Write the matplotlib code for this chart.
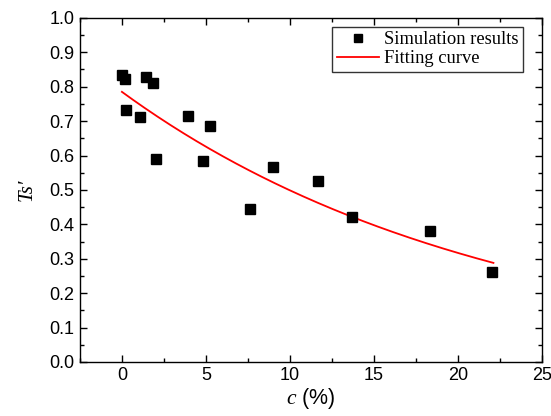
import numpy as np
import matplotlib
matplotlib.use('Agg')
import matplotlib.pyplot as plt

# simulation results
c_sim = [0.0, 0.16, 0.24, 1.09, 1.43, 1.85, 2.0, 3.93, 4.84, 5.26, 7.63, 8.97, 11.67, 13.71, 18.35, 22.04]
ts_sim = [0.833, 0.822, 0.732, 0.713, 0.829, 0.812, 0.591, 0.715, 0.584, 0.685, 0.445, 0.567, 0.525, 0.420, 0.381, 0.260]

# fitting curve y = a * exp(-b * c)
fit_a = 0.785
fit_b = 0.0454
fit_range = (0.0, 22.1)

plt.rcParams['font.family'] = 'Liberation Sans'
plt.rcParams['mathtext.fontset'] = 'custom'
plt.rcParams['mathtext.it'] = 'Liberation Serif:italic'
plt.rcParams['mathtext.rm'] = 'Liberation Serif'

fig = plt.figure(figsize=(5.51, 4.16), dpi=100)
ax = fig.add_axes([0.145, 0.13, 0.839, 0.827])

ax.plot(c_sim, ts_sim, 's', color='black', markersize=7, label='Simulation results', zorder=3)
c_fit = np.linspace(fit_range[0], fit_range[1], 200)
ax.plot(c_fit, fit_a * np.exp(-fit_b * c_fit), color='red', linewidth=1.3, label='Fitting curve')

ax.set_xlim(-2.5, 25)
ax.set_ylim(0, 1.0)
ax.set_xticks([0, 5, 10, 15, 20, 25])
ax.set_xticks(np.arange(-2.5, 25.1, 2.5), minor=True)
ax.set_yticks(np.arange(0, 1.01, 0.1))
ax.set_yticks(np.arange(0, 1.01, 0.05), minor=True)
ax.set_yticklabels([f'{v:.1f}' for v in np.arange(0, 1.01, 0.1)])

ax.tick_params(which='both', direction='in', top=True, right=True, labelsize=13, width=1)
ax.tick_params(which='major', length=5, pad=4)
ax.tick_params(which='minor', length=3)
for s in ax.spines.values():
    s.set_linewidth(1)

ax.set_xlabel('$c$ (%)', fontsize=15.5, labelpad=1)
ax.set_ylabel('Ts\u2032', fontsize=15, family='Liberation Serif', style='italic', labelpad=9)

leg = ax.legend(loc='upper right', bbox_to_anchor=(0.959, 0.974), fancybox=False,
                edgecolor='black', prop={'family': 'Liberation Serif', 'size': 13.3},
                handlelength=2.27, borderpad=0.25, labelspacing=0.1, handletextpad=0.3,
                markerscale=0.75, borderaxespad=0)
leg.get_frame().set_linewidth(1)

fig.savefig('out.png', dpi=100)
